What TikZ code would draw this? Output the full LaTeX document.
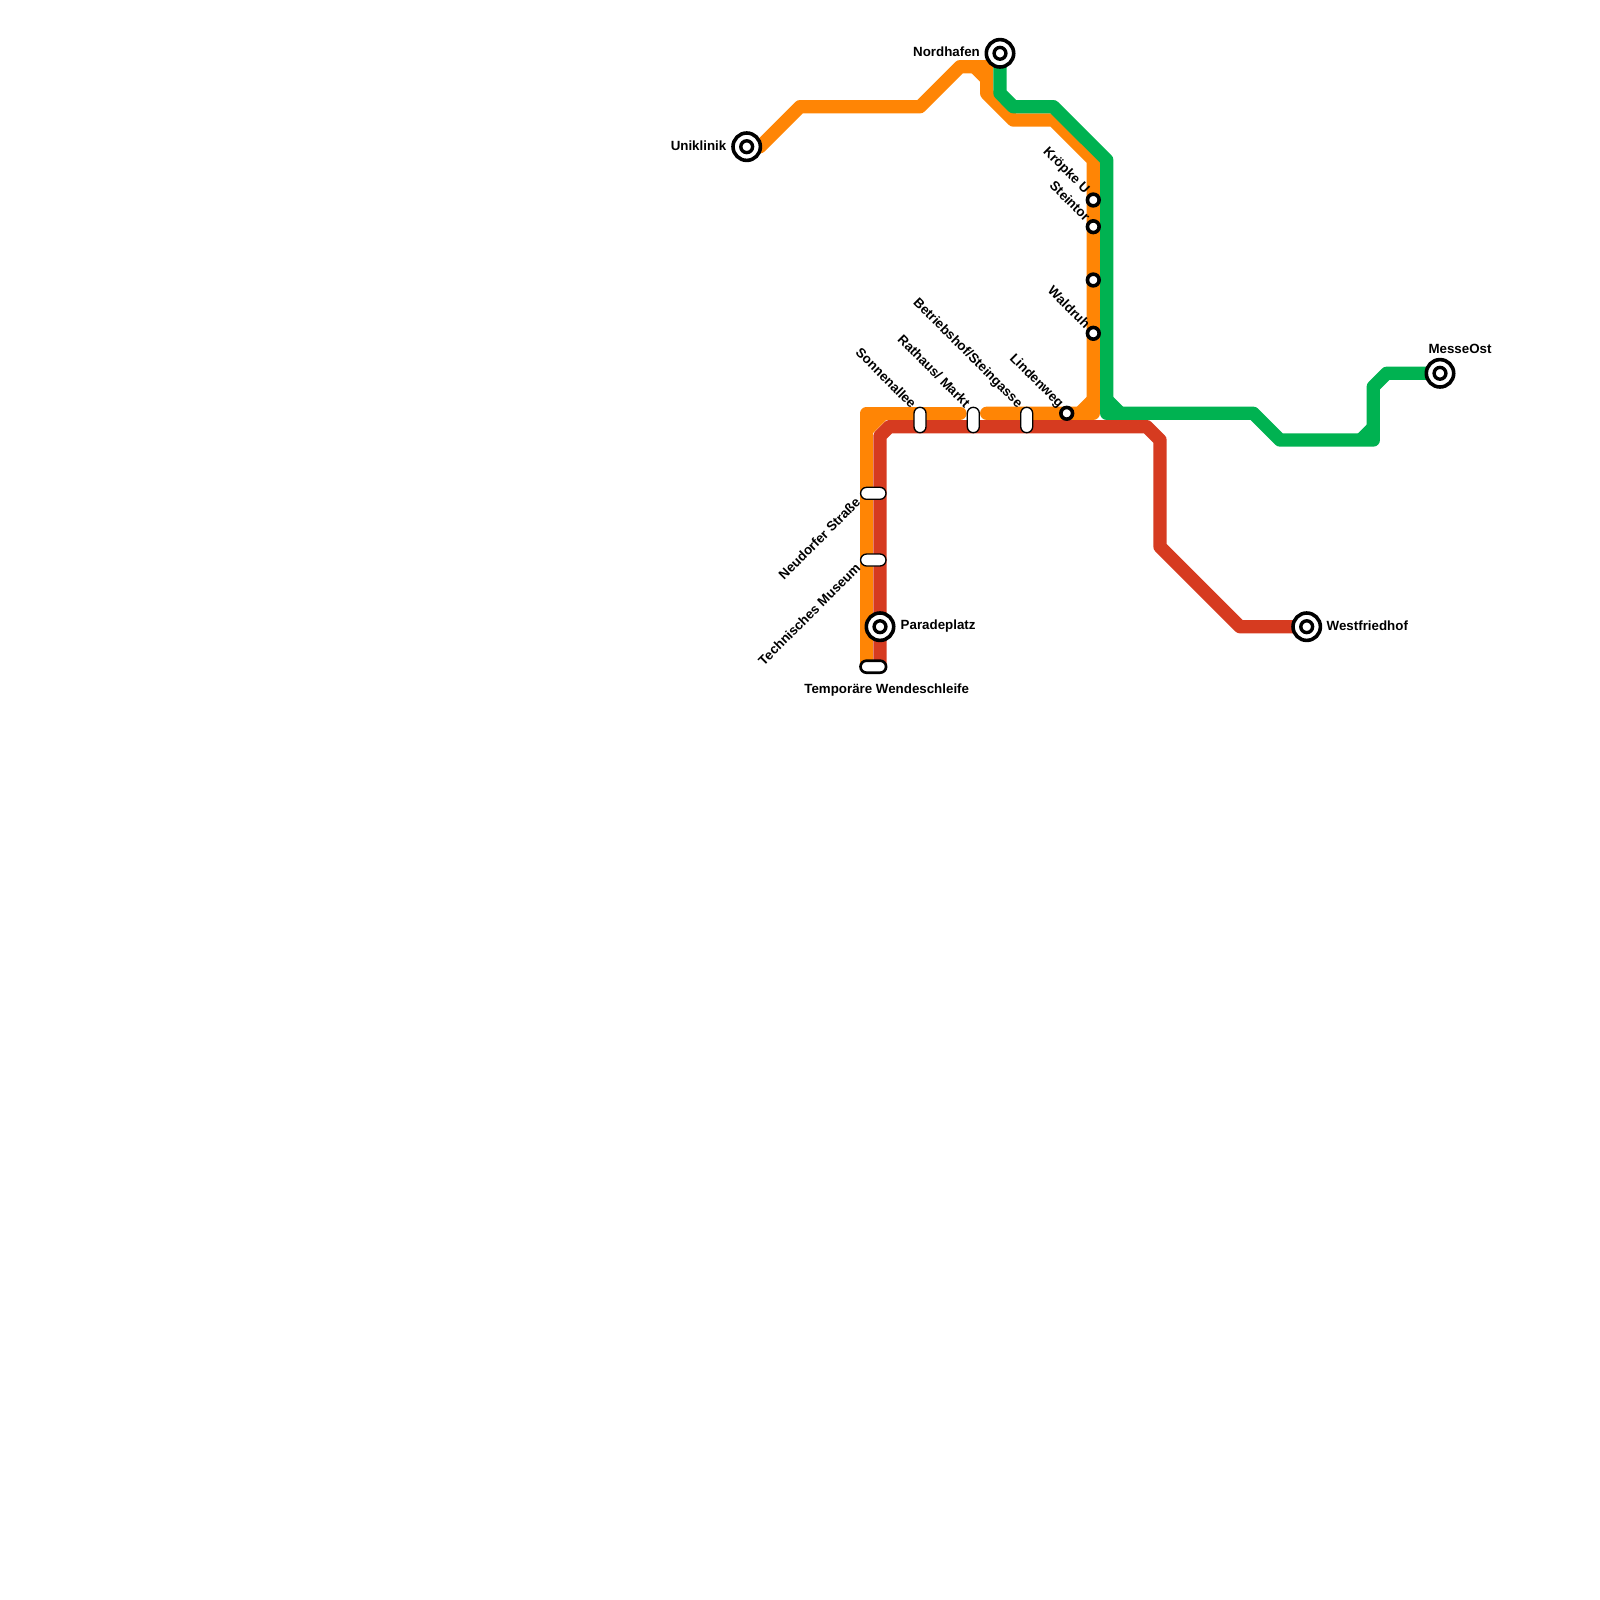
\documentclass[tikz,border=0pt]{standalone}
\usepackage{fontspec}
\setmainfont{Liberation Sans}
\usetikzlibrary{backgrounds}
\definecolor{lineorange}{HTML}{FF8505}
\definecolor{linegreen}{HTML}{00B251}
\definecolor{linered}{HTML}{D63B20}

\begin{document}
\begin{tikzpicture}[
    x=1pt, y=-1pt,
    % GLOBAL CFG
    font=\bfseries\fontsize{13.33}{16}\selectfont,
    % Styles
    metro/.style={% For the lines
        line width=13.33pt,
        line join=round,
        line cap=round,
        },
    terminus/.style={% For big stations
        circle,
        draw,
        fill=white,
        line width=3.6pt,
        inner sep=0pt,
        minimum size=27.4pt,
        path picture={\draw [line width=3.4pt] (path picture bounding box.center) circle (5.9pt);},
        },
    halt/.style={% For small stations
        circle,
        draw,
        fill=white,
        line width=3.6pt,
        inner sep=0pt,
        minimum size=11.7pt,
        },
    pillh/.style={% For lying stops across two lines
        rectangle,
        rounded corners=6pt,
        draw,
        fill=white,
        line width=1.33pt,
        inner sep=0pt,
        minimum width=25.4pt,
        minimum height=12pt,
        },
    pillv/.style={% For standing stops
        pillh,
        minimum width=12pt,
        minimum height=25.4pt,
        },
    mylabel/.style={% Plain station names
        inner sep=0pt,
        },
    ]

\useasboundingbox (0,0) rectangle (1600,1600);

    % Draw big stations
    \node [terminus] (uniklinik) at (746.7,146.7) {};
    \node [terminus] (nordhafen) at (1000,53.3) {};
    \node [terminus] (parade) at (880,626.7) {};
    \node [terminus] (westfriedhof) at (1306.7,626.7) {};
    \node [terminus] (messeost) at (1440,373.3) {};

    % Draw small stations
    \node [halt] (kroepke) at (1093.3,200) {};
    \node [halt] (steintor) at (1093.3,226.7) {};
    \node [halt] (noname) at (1093.3,280) {};
    \node [halt] (waldruh) at (1093.3,333.3) {};
    \node [halt] (lindenweg) at (1066.7,413.3) {};

    % Draw stops named as basis
    \node [pillv] (sonnen) at (920,420) {};
    \node [pillv] (rathaus) at (973.3,420) {};
    \node [pillv] (betrieb) at (1026.7,420) {};
    \node [pillh] (neudorf) at (873.3,493.3) {};
    \node [pillh] (technik) at (873.3,560) {};
    \node [pillh, line width=2.67pt, minimum height=12pt, minimum width=25.6pt] (wende) at (873.3,666.7) {};

    % Draw labels
    \node [mylabel, anchor=east] (lnordhafen) at (980,52) {Nordhafen};
    \node [mylabel, anchor=east] (luniklinik) at (726.5,146) {Uniklinik};
    \node [mylabel, anchor=west] (lparade) at (900.5,626.5) {Paradeplatz};
    \node [mylabel, anchor=west] (lwestfriedhof) at (1326.5,626) {Westfriedhof};
    \node [mylabel] (lmesseost) at (1460,348.5) {MesseOst};
    \node [mylabel] (lwende) at (886.7,690.5) {Temporäre Wendeschleife};
    \node [mylabel, anchor=east, rotate=-45] (lkroepke) at (1087,192) {Kröpke U};
    \node [mylabel, anchor=east, rotate=-45] (lsteintor) at (1088,219) {Steintor};
    \node [mylabel, anchor=east, rotate=-45] (lwaldruh) at (1088,326) {Waldruh};
    \node [mylabel, anchor=east, rotate=-45] (llindenweg) at (1061,406) {Lindenweg};
    \node [mylabel, anchor=east, rotate=-45] (lbetrieb) at (1020,406) {Betriebshof/Steingasse};
    \node [mylabel, anchor=east, rotate=-45] (lrathaus) at (968,405) {Rathaus/ Markt};
    \node [mylabel, anchor=east, rotate=-45] (lsonnen) at (914,406) {Sonnenallee};
    \node [mylabel, anchor=east, rotate=45] (lneudorf) at (858,500) {Neudorfer Straße};
    \node [mylabel, anchor=east, rotate=45] (ltechnik) at (858,565.5) {Technisches Museum};

    % Draw bends, named after their line
    \coordinate (o1) at (760,146.7);
    \coordinate (o2) at (800,106.7);
    \coordinate (o3) at (920,106.7);
    \coordinate (o4) at (960,66.7);
    \coordinate (o5) at (986.7,66.7);
    \coordinate (o6) at (986.7,93.3);
    \coordinate (o7) at (1013.3,120);
    \coordinate (o8) at (1053.3,120);
    \coordinate (o9) at (1093.3,160);
    \coordinate (o10) at (1093.3,413.3);
    \coordinate (o11) at (986.7,413.3);
    \coordinate (o12) at (960,413.3);
    \coordinate (o13) at (866.7,413.3);
    \coordinate (o14) at (866.7,666.7);
    \coordinate (g1) at (1000,93.3);
    \coordinate (g2) at (1013.3,106.7);
    \coordinate (g3) at (1053.3,106.7);
    \coordinate (g4) at (1106.7,160);
    \coordinate (g5) at (1106.7,413.3);
    \coordinate (g6) at (1253.3,413.3);
    \coordinate (g7) at (1280,440);
    \coordinate (g8) at (1373.3,440);
    \coordinate (g9) at (1373.3,386.7);
    \coordinate (g10) at (1386.7,373.3);
    \coordinate (r1) at (880,436);
    \coordinate (r2) at (889.3,426.7);
    \coordinate (r3) at (1146.7,426.7);
    \coordinate (r4) at (1160,440);
    \coordinate (r5) at (1160,546.7);
    \coordinate (r6) at (1240,626.7);

% Start connecting all.
    \begin{scope}[on background layer]
    \draw [metro, lineorange] (uniklinik.center) -- (o1) -- (o2) -- (o3) -- (o4) -- (o5) -- (o6) -- (o7) -- (o8) -- (o9) -- (o10) -- (o11);
    \draw [metro, lineorange] (o12) -- (o13) -- (o14);
    \fill [lineorange] (o5) -- +(-21.6,0) -- +(0,21.6) -- cycle;
    \fill [lineorange] (o10) -- +(-23,0) -- +(0,-23) -- cycle;
    \fill [lineorange] (o13) -- +(26,0) -- +(0,26) -- cycle;

    \draw [metro, linegreen] (nordhafen.center) -- (g1) -- (g2) -- (g3) -- (g4) -- (g5) -- (g6) -- (g7) -- (g8) -- (g9) -- (g10) -- (messeost.center);
    \fill [linegreen] (g5) -- +(23,0) -- +(0,-23) -- cycle;
    \fill [linegreen] (g8) -- +(-22,0) -- +(0,-22) -- cycle;

    \draw [metro, linered] (wende.center -| r1) -- (r1) -- (r2) -- (r3) -- (r4) -- (r5) -- (r6) -- (westfriedhof.center);
    \end{scope}

\end{tikzpicture}
\end{document}
